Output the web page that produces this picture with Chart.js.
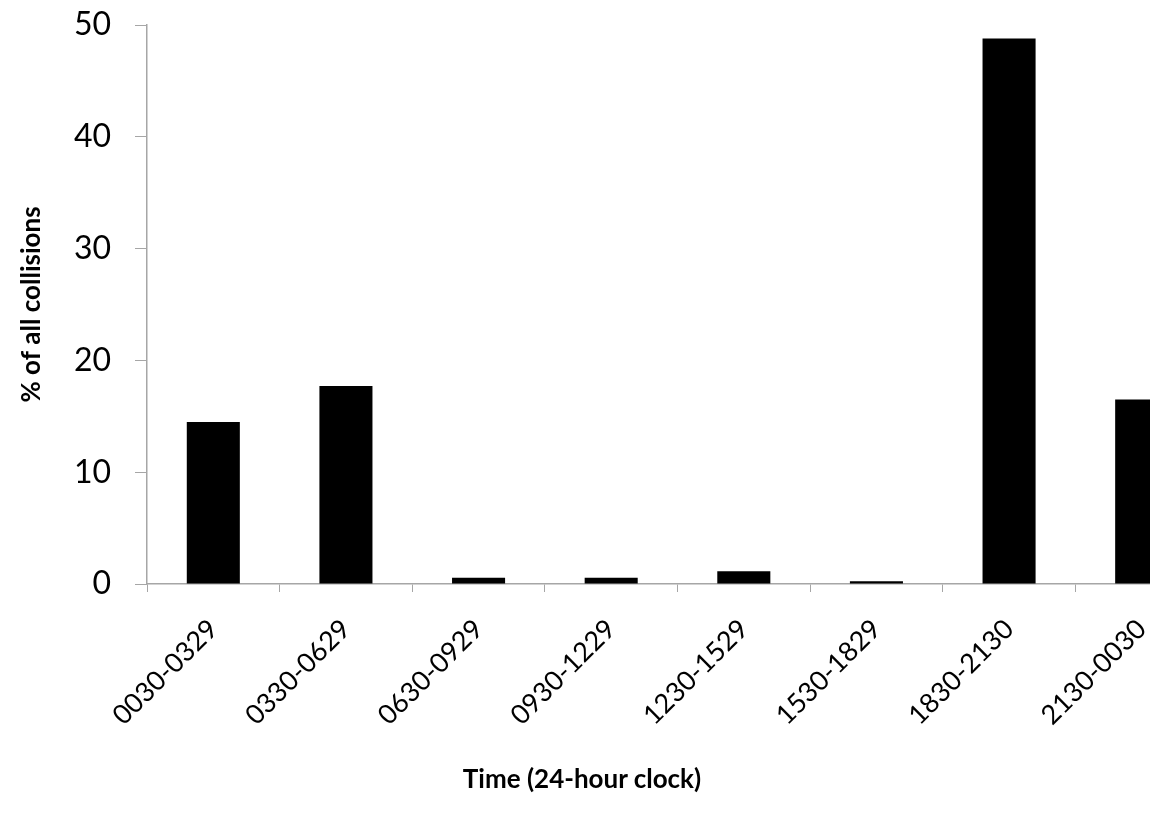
<!DOCTYPE html>
<html>
<head>
<meta charset="utf-8">
<script src="https://cdn.jsdelivr.net/npm/chart.js@4"></script>
<style>
  html, body { margin: 0; padding: 0; background: #fff; overflow: hidden; }
  #wrap { position: relative; width: 1210px; height: 815px; }
  #xTitle {
    position: absolute; left: 582px; top: 778px; transform: translate(-50%, -50%);
    font: bold 26px Lato, sans-serif; color: #000; white-space: nowrap;
  }
</style>
</head>
<body>
<div id="wrap">
  <canvas id="chart"></canvas>
  <div id="xTitle">Time (24-hour clock)</div>
</div>
<script>
const categories = ["0030-0329", "0330-0629", "0630-0929", "0930-1229", "1230-1529", "1530-1829", "1830-2130", "2130-0030"];
const collisionPct = [14.5, 17.7, 0.55, 0.55, 1.15, 0.25, 48.8, 16.5];
const yTicks = [0, 10, 20, 30, 40, 50];

const AXIS = "#a6a6a6";

new Chart(document.getElementById("chart"), {
  type: "bar",
  data: {
    labels: categories,
    datasets: [{
      data: collisionPct,
      backgroundColor: "#000",
      borderWidth: 0,
      categoryPercentage: 1,
      barPercentage: 0.4,
    }],
  },
  options: {
    responsive: true,
    maintainAspectRatio: false,
    animation: false,
    layout: { padding: { top: 25, right: 2, left: 0, bottom: 0 } },
    plugins: { legend: { display: false }, tooltip: { enabled: false } },
    scales: {
      x: {
        offset: true,
        grid: { offset: true, drawOnChartArea: false, drawTicks: true, tickLength: 8, color: AXIS },
        border: { color: AXIS, width: 1.5 },
        ticks: { color: "#000", font: { family: "Lato", size: 27 }, minRotation: 45, maxRotation: 45, padding: 21, autoSkip: false },
        afterFit: (s) => { s.height = 231; s.paddingLeft = 0; s.paddingRight = 0; },
      },
      y: {
        min: 0,
        max: 50,
        afterBuildTicks: (s) => { s.ticks = yTicks.map((v) => ({ value: v })); },
        grid: { drawOnChartArea: false, drawTicks: true, tickLength: 12, color: AXIS },
        border: { color: AXIS, width: 1.5 },
        ticks: { color: "#000", font: { family: "Lato", size: 32 }, padding: 24 },
        title: { display: true, text: "% of all collisions", color: "#000", font: { family: "Lato", size: 26, weight: "bold" }, padding: { top: 16, bottom: 0 } },
        afterFit: (s) => { s.width = 147; s.paddingTop = 0; s.paddingBottom = 0; },
      },
    },
  },
});
</script>
</body>
</html>
